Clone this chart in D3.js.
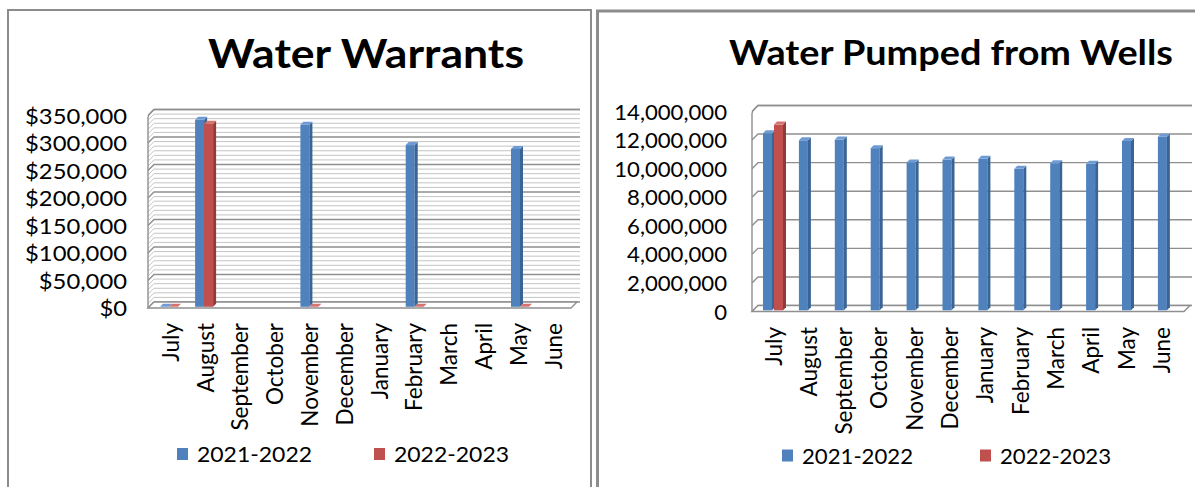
<!DOCTYPE html>
<html>
<head>
<meta charset="utf-8">
<script src="https://cdn.jsdelivr.net/npm/d3@7"></script>
<style>
  html, body { margin: 0; padding: 0; background: #fff; }
  svg { display: block; }
  text { font-family: Lato, "Open Sans", sans-serif; fill: #000; }
</style>
</head>
<body>
<svg id="chart" width="1195" height="487"></svg>
<script>
// ---- data ----
const months = ["July", "August", "September", "October", "November", "December",
                "January", "February", "March", "April", "May", "June"];
const seriesNames = ["2021-2022", "2022-2023"];

const warrants2122 = [0, 340000, null, null, 331000, null, null, 294000, null, null, 287000, null];
const warrants2223 = [0, 333000, null, null, 0, null, null, 0, null, null, 0, null];
const warrantTicks = [0, 50000, 100000, 150000, 200000, 250000, 300000, 350000];

const pumped2122 = [12400000, 11900000, 11950000, 11350000, 10350000, 10550000,
                    10600000, 9900000, 10300000, 10250000, 11850000, 12150000];
const pumped2223 = [13000000, null, null, null, null, null, null, null, null, null, null, null];
const pumpedTicks = [0, 2000000, 4000000, 6000000, 8000000, 10000000, 12000000, 14000000];

// ---- styling ----
const colors = {
  blue: { front: "#4F81BD", side: "#3A6494", top: "#6E9BD3" },
  red:  { front: "#C0504D", side: "#8E3B39", top: "#D4736F" }
};

const svg = d3.select("#chart");

// panel frames
svg.append("rect").attr("x", 8).attr("y", 10).attr("width", 583).attr("height", 490)
  .attr("fill", "#fff").attr("stroke", "#8c8c8c").attr("stroke-width", 2);
svg.append("rect").attr("x", 597.5).attr("y", 11).attr("width", 620).attr("height", 490)
  .attr("fill", "#fff").attr("stroke", "#8c8c8c").attr("stroke-width", 3);

// widen horizontal text by a factor
function stretch(sel, factor) {
  sel.each(function () {
    const w = this.getComputedTextLength();
    d3.select(this).attr("textLength", w * factor).attr("lengthAdjust", "spacingAndGlyphs");
  });
}

function drawChart(cfg) {
  const g = svg.append("g");
  const y = d3.scaleLinear().domain([0, cfg.max]).range([cfg.floorY, cfg.topY]);
  const xb = d3.scaleBand().domain(months).range(cfg.barRange);
  const xl = d3.scaleBand().domain(months).range(cfg.labelRange);
  const DX = cfg.DX, DY = cfg.DY;
  const wallX0 = cfg.barRange[0];
  const wallX1 = cfg.wallRight;

  // minor gridlines on back wall + side wall
  if (cfg.minorStep) {
    const minor = d3.range(0, cfg.max + 1, cfg.minorStep)
      .filter(v => cfg.ticks.indexOf(v) < 0);
    g.append("g").selectAll("path").data(minor).join("path")
      .attr("d", v => `M${wallX0},${y(v)}L${wallX0 + DX},${y(v) + DY}L${wallX1},${y(v) + DY}`)
      .attr("fill", "none").attr("stroke", "#c4c4c4").attr("stroke-width", 1);
  }
  // major gridlines
  g.append("g").selectAll("path").data(cfg.ticks).join("path")
    .attr("d", v => `M${wallX0},${y(v)}L${wallX0 + DX},${y(v) + DY}L${wallX1},${y(v) + DY}`)
    .attr("fill", "none").attr("stroke", "#8f8f8f").attr("stroke-width", 1.4);

  // wall outline: side edge and top edge
  g.append("path")
    .attr("d", `M${wallX0},${y(0)}L${wallX0},${y(cfg.max) + 2}Q${wallX0},${y(cfg.max)} ${wallX0 + 2},${y(cfg.max) - 2}` +
               `L${wallX0 + DX},${y(cfg.max) + DY}L${wallX1},${y(cfg.max) + DY}`)
    .attr("fill", "none").attr("stroke", "#8f8f8f").attr("stroke-width", 1.4);

  // floor
  const fx1 = cfg.floorRight;
  g.append("path")
    .attr("d", `M${wallX0},${y(0)}L${fx1},${y(0)}L${fx1 + DX},${y(0) + DY}L${wallX0 + DX},${y(0) + DY}Z`)
    .attr("fill", "#fff").attr("stroke", "#8f8f8f").attr("stroke-width", 1.4);

  // 3D bars
  const d1 = 0.2, d2 = 0.7;
  const bars = [];
  months.forEach((m, i) => {
    [[cfg.s1, colors.blue, cfg.off1], [cfg.s2, colors.red, cfg.off2]].forEach(([vals, c, off]) => {
      if (vals[i] === null) return;
      bars.push({ m, v: vals[i], c, off });
    });
  });
  const bg = g.append("g").selectAll("g").data(bars).join("g");
  const geom = d => {
    const x1 = xb(d.m) + d.off + d1 * DX;
    const x2 = x1 + cfg.barW;
    const yt = y(d.v) + d1 * DY;
    const yb = y(0) + d1 * DY;
    const ddx = (d2 - d1) * DX, ddy = (d2 - d1) * DY;
    return { x1, x2, yt, yb, ddx, ddy };
  };
  bg.append("rect")
    .attr("x", d => geom(d).x1).attr("y", d => geom(d).yt)
    .attr("width", cfg.barW).attr("height", d => geom(d).yb - geom(d).yt)
    .attr("fill", d => d.c.front);
  bg.append("path")
    .attr("d", d => { const k = geom(d);
      return `M${k.x2},${k.yt}L${k.x2 + k.ddx},${k.yt + k.ddy}L${k.x2 + k.ddx},${k.yb + k.ddy}L${k.x2},${k.yb}Z`; })
    .attr("fill", d => d.c.side);
  bg.append("path")
    .attr("d", d => { const k = geom(d);
      return `M${k.x1},${k.yt}L${k.x2},${k.yt}L${k.x2 + k.ddx},${k.yt + k.ddy}L${k.x1 + k.ddx},${k.yt + k.ddy}Z`; })
    .attr("fill", d => d.c.top);

  // value axis labels
  g.append("g").selectAll("text").data(cfg.ticks).join("text")
    .attr("x", cfg.labelRight).attr("y", v => y(v))
    .attr("text-anchor", "end").attr("dominant-baseline", "central")
    .attr("font-size", cfg.tickSize)
    .text(cfg.fmt)
    .call(stretch, cfg.tickStretch);

  // category labels (rotated)
  g.append("g").selectAll("text").data(months).join("text")
    .attr("transform", m => `translate(${xl(m) + xl.bandwidth() / 2},${cfg.catTop}) rotate(-90)`)
    .attr("text-anchor", "end").attr("dominant-baseline", "central")
    .attr("font-size", cfg.catSize)
    .text(m => m);

  // title
  g.append("text")
    .attr("x", cfg.titleX).attr("y", cfg.titleY)
    .attr("text-anchor", "middle").attr("font-weight", "bold")
    .attr("font-size", cfg.titleSize)
    .attr("textLength", cfg.titleLen).attr("lengthAdjust", "spacingAndGlyphs")
    .text(cfg.title);

  // legend
  const lg = g.append("g").selectAll("g").data(seriesNames).join("g")
    .attr("transform", (d, i) => `translate(${cfg.legendX[i]},${cfg.legendY})`);
  lg.append("rect").attr("x", 0).attr("y", -6).attr("width", 11).attr("height", 12)
    .attr("fill", (d, i) => i === 0 ? colors.blue.front : colors.red.front);
  lg.append("text").attr("x", 20).attr("y", 0)
    .attr("dominant-baseline", "central").attr("font-size", cfg.legendSize)
    .attr("textLength", cfg.legendLen).attr("lengthAdjust", "spacingAndGlyphs")
    .text(d => d);
}

drawChart({
  title: "Water Warrants", titleX: 366, titleY: 68, titleSize: 41, titleLen: 316,
  s1: warrants2122, s2: warrants2223, max: 350000, ticks: warrantTicks, minorStep: 50000 / 6,
  fmt: v => "$" + d3.format(",")(v),
  floorY: 308, topY: 115.5, DX: 6, DY: -6,
  barRange: [148, 569.2], floorRight: 571, wallRight: 580,
  labelRange: [152.9, 570.5],
  barW: 9, off1: 10.8, off2: 19.8,
  labelRight: 127, tickSize: 20.5, tickStretch: 1.16,
  catTop: 323, catSize: 22.5,
  legendX: [177, 374], legendY: 454, legendSize: 21.5, legendLen: 115
});

drawChart({
  title: "Water Pumped from Wells", titleX: 951, titleY: 65, titleSize: 35, titleLen: 444,
  s1: pumped2122, s2: pumped2223, max: 14000000, ticks: pumpedTicks, minorStep: null,
  fmt: v => d3.format(",")(v),
  floorY: 311.5, topY: 111.5, DX: 6, DY: -6,
  barRange: [752, 1182.8], floorRight: 1184, wallRight: 1192,
  labelRange: [755.4, 1179],
  barW: 9, off1: 9.8, off2: 20.8,
  labelRight: 727, tickSize: 20.5, tickStretch: 1.08,
  catTop: 327, catSize: 22.5,
  legendX: [782, 980], legendY: 455.5, legendSize: 21.5, legendLen: 111
});
</script>
</body>
</html>
